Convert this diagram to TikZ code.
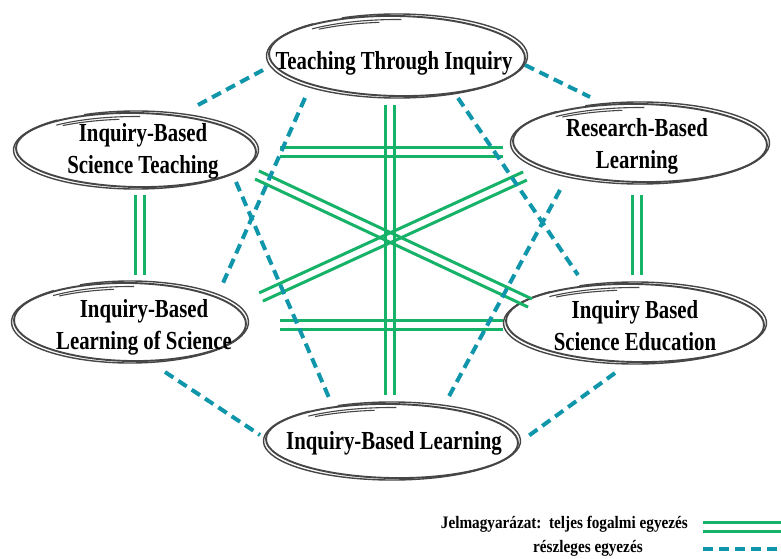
\documentclass[tikz,border=0pt]{standalone}
\usepackage{fontspec}
\setmainfont{Liberation Serif}[FakeStretch=0.8]
\newfontfamily\legfont{Liberation Serif}[FakeStretch=0.87]
\usetikzlibrary{calc}
\definecolor{fullc}{RGB}{22,178,104}
\definecolor{partc}{RGB}{16,150,170}
\definecolor{ellc}{RGB}{70,70,70}
\tikzset{
  lbl/.style={font=\fontsize{26}{32}\selectfont\bfseries, align=center, inner sep=0pt},
  leg/.style={font=\legfont\fontsize{17.5}{20}\selectfont\bfseries, inner sep=0pt},
  full/.style={draw=fullc, line width=3pt,
    to path={($(\tikztostart)!4.5pt!90:(\tikztotarget)$) -- ($(\tikztotarget)!4.5pt!-90:(\tikztostart)$)
             ($(\tikztostart)!4.5pt!-90:(\tikztotarget)$) -- ($(\tikztotarget)!4.5pt!90:(\tikztostart)$)}},
  part/.style={draw=partc, line width=4pt, dash pattern=on 10pt off 6pt},
  ring/.style={draw=ellc, line width=1.9pt},
  pics/sketch/.style n args={2}{code={
    \draw[ring] (0,0) ellipse [x radius=#1, y radius=#2, rotate=-1];
    \draw[ring, line width=1.4pt] (245:{#1+2.5} and {#2+2}) arc [start angle=245, end angle=590, x radius=#1+2.5, y radius=#2+2];
    \draw[ring, line width=1.1pt] (228:{#1-1} and {#2-3.5}) arc [start angle=228, end angle=272, x radius=#1-1, y radius=#2-3.5];
    \draw[ring, line width=1.1pt] (232:{#1-1} and {#2-6}) arc [start angle=232, end angle=262, x radius=#1-1, y radius=#2-6];
  }}
}
\begin{document}
\begin{tikzpicture}[x=1pt, y=-1pt]
\useasboundingbox[fill=white] (0,0) rectangle (781,559);

\pic at (397,56) {sketch={128}{40}};
\pic at (136,150) {sketch={120}{37}};
\pic at (640,143) {sketch={127}{39}};
\pic at (130,322) {sketch={116}{39}};
\pic at (635,323) {sketch={129}{39}};
\pic at (392,441) {sketch={126}{37}};

\node[lbl] (tti)  at (394,63)  {Teaching Through Inquiry};
\node[lbl] (ibst) at (143,151) {Inquiry-Based\\Science Teaching};
\node[lbl] (rbl)  at (637,146) {Research-Based\\Learning};
\node[lbl] (ibls) at (144,327) {Inquiry-Based\\Learning of Science};
\node[lbl] (ibse) at (635,326) {Inquiry Based\\Science Education};
\node[lbl] (ibl)  at (394,443) {Inquiry-Based Learning};

\coordinate (fv1) at (390,105); \coordinate (fv2) at (390,395);
\coordinate (fh1) at (280,152); \coordinate (fh2) at (503,152);
\coordinate (fh3) at (280,325); \coordinate (fh4) at (503,325);
\coordinate (fl1) at (140,195); \coordinate (fl2) at (140,275);
\coordinate (fr1) at (637,195); \coordinate (fr2) at (637,275);
\coordinate (fd1) at (257,175); \coordinate (fd2) at (530,303);
\coordinate (fd3) at (261,297); \coordinate (fd4) at (525,176);

\coordinate (pa1) at (198,105); \coordinate (pa2) at (263,70);
\coordinate (pb1) at (525,65);  \coordinate (pb2) at (590,97);
\coordinate (pc1) at (305,98);  \coordinate (pc2) at (223,283);
\coordinate (pd1) at (458,98);  \coordinate (pd2) at (578,275);
\coordinate (pe1) at (236,182); \coordinate (pe2) at (330,400);
\coordinate (pf1) at (560,190); \coordinate (pf2) at (447,400);
\coordinate (pg1) at (165,372); \coordinate (pg2) at (260,435);
\coordinate (ph1) at (615,373); \coordinate (ph2) at (527,437);

\draw[full] (fv1) to (fv2);
\draw[full] (fh1) to (fh2);
\draw[full] (fh3) to (fh4);
\draw[full] (fl1) to (fl2);
\draw[full] (fr1) to (fr2);
\draw[full] (fd1) to (fd2);
\draw[full] (fd3) to (fd4);

\draw[part] (pa1) -- (pa2);
\draw[part] (pb1) -- (pb2);
\draw[part] (pc1) -- (pc2);
\draw[part] (pd1) -- (pd2);
\draw[part] (pe1) -- (pe2);
\draw[part] (pf1) -- (pf2);
\draw[part] (pg1) -- (pg2);
\draw[part] (ph1) -- (ph2);

\node[leg, anchor=base east] (l1) at (688,528) {Jelmagyarázat:\ \ teljes fogalmi egyezés};
\node[leg, anchor=base west] (l2) at (533,552) {részleges egyezés};
\coordinate (lf1) at (703,527); \coordinate (lf2) at (781,527);
\coordinate (lp1) at (703,549); \coordinate (lp2) at (781,549);
\draw[full] (lf1) to (lf2);
\draw[part] (lp1) -- (lp2);
\end{tikzpicture}
\end{document}
